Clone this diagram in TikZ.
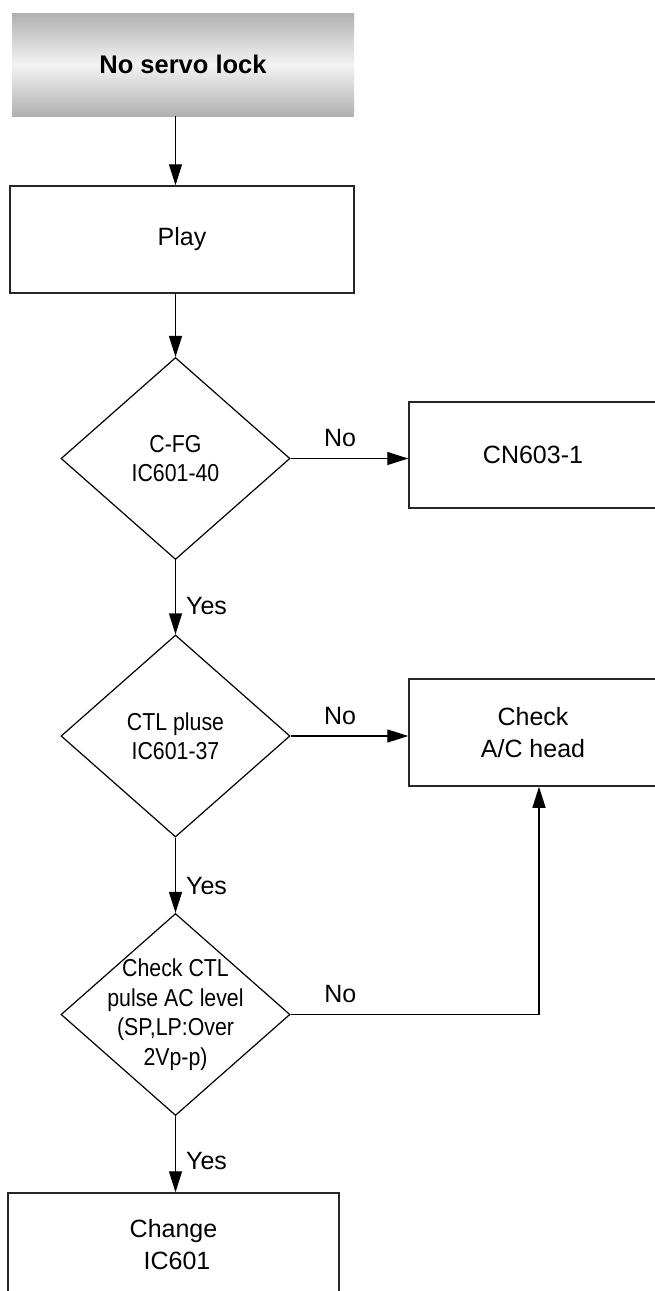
\documentclass[tikz,border=0pt]{standalone}
\usepackage{fontspec}
\setmainfont{Liberation Sans}
\newfontfamily\condfont[FakeStretch=0.87]{Liberation Sans}
\usetikzlibrary{positioning, arrows.meta, shapes.geometric}
\definecolor{bandgray}{RGB}{176, 176, 176}
\definecolor{bandlight}{RGB}{243, 243, 243}
\tikzset{
  box/.style={
    draw=black!85, line width=1.5pt, fill=white,
    inner sep=0pt,
    font=\fontsize{25}{32}\selectfont,
    align=center
  },
  decision/.style={
    draw, diamond, line width=1.2pt, fill=white,
    inner sep=0pt,
    minimum width=229pt,
    minimum height=202pt
  },
  dtext/.style={font=\condfont\fontsize{24.5}{29.5}\selectfont, align=center, inner sep=0pt},
  signal/.style={-{Triangle[length=21pt, width=13pt]}, line width=1.2pt, black},
  answer/.style={font=\fontsize{25}{30}\selectfont, inner sep=0pt}
}

\begin{document}
\begin{tikzpicture}[x=1pt, y=-1pt]

\useasboundingbox (0, 0) rectangle (655, 1291);
\clip (0, 0) rectangle (655, 1291);

% Start
\node[top color=bandgray, bottom color=bandgray, middle color=bandlight, minimum width=342pt, minimum height=103pt, inner sep=0pt, font=\bfseries\fontsize{25.5}{30}\selectfont] (start) at (183, 64.5) {No servo lock};

% Play
\node[box, minimum width=344pt, minimum height=107pt] (play) at (182, 239.5) {Play};

% Decisions
\node[decision] (cfg) at (175.5, 458.5) {};
\node[dtext] (cfg_txt) at (cfg) {C-FG\\IC601-40};
\node[decision] (ctl) at (175.5, 736) {};
\node[dtext] (ctl_txt) at (ctl) {CTL pluse\\IC601-37};
\node[decision] (lvl) at (175.5, 1014.5) {};
\node[dtext] (lvl_txt) at (lvl) {Check CTL\\pulse AC level\\(SP,LP:Over\\2Vp-p)};

% Right side
\node[box, minimum width=248pt, minimum height=106pt] (cn) at (533, 455) {CN603-1};
\node[box, minimum width=248pt, minimum height=107pt] (head) at (533, 732.5) {Check\\A/C head};

% Change
\node[box, minimum width=331pt, minimum height=104pt] (chg) at (173.5, 1245) {Change\\\ IC601};

\coordinate (turn) at (539, 1014.5);

% Main flow
\draw[signal] (start.south -| cfg.north) -- (play.north -| cfg.north);
\draw[signal] (play.south -| cfg.north) -- (cfg.north);
\draw[signal] (cfg.south) -- (ctl.north) node[answer, pos=0.62, right=10pt] {Yes};
\draw[signal] (ctl.south) -- (lvl.north) node[answer, pos=0.64, right=10pt] {Yes};
\draw[signal] (lvl.south) -- (chg.north -| lvl.south) node[answer, pos=0.59, right=10pt] {Yes};

% No branches
\draw[signal] (cfg.east) -- (cfg.east -| cn.west) node[answer, pos=0.42, above=11pt] {No};
\draw[signal] (ctl.east) -- (ctl.east -| head.west) node[answer, pos=0.42, above=11pt] {No};
\draw[signal] (lvl.east) -- (turn) node[answer, pos=0.2, above=11pt] {No} -- (head.south -| turn);

\end{tikzpicture}
\end{document}
